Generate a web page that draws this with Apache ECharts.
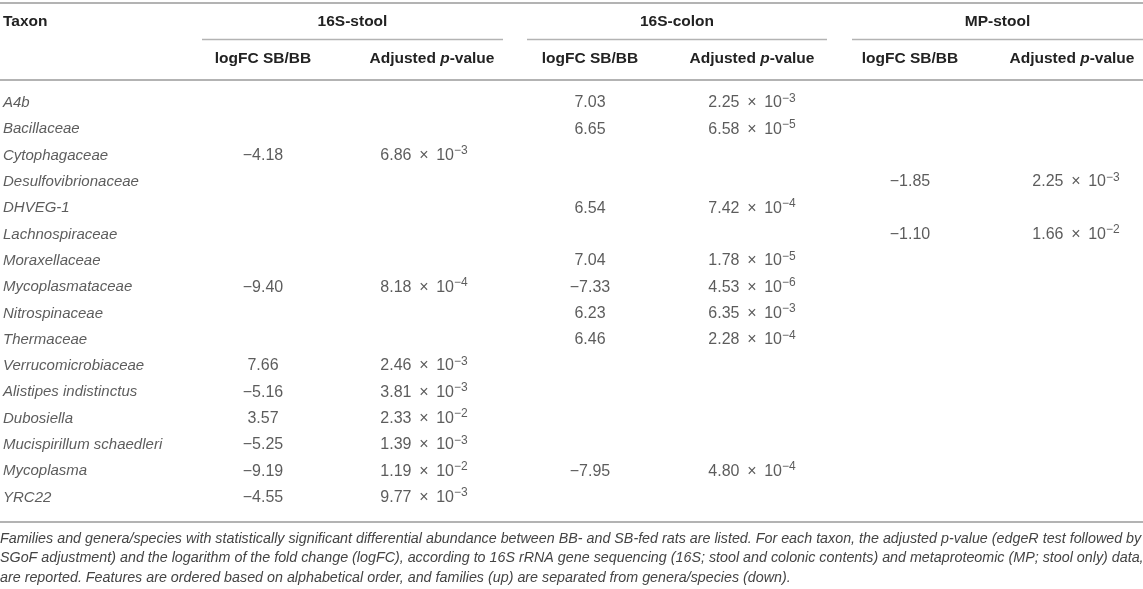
<!DOCTYPE html>
<html>
<head>
<meta charset="utf-8">
<script src="https://cdn.jsdelivr.net/npm/echarts@6/dist/echarts.min.js"></script>
<style>
  html, body { margin: 0; padding: 0; background: #fff; }
  #main { width: 1143px; height: 589px; }
</style>
</head>
<body>
<div id="main"></div>
<script>
// table content
var taxa = [
    'A4b', 'Bacillaceae', 'Cytophagaceae', 'Desulfovibrionaceae', 'DHVEG-1',
    'Lachnospiraceae', 'Moraxellaceae', 'Mycoplasmataceae', 'Nitrospinaceae',
    'Thermaceae', 'Verrucomicrobiaceae', 'Alistipes indistinctus', 'Dubosiella',
    'Mucispirillum schaedleri', 'Mycoplasma', 'YRC22'
];
var stoolLogFC = [null, null, -4.18, null, null, null, null, -9.40, null, null, 7.66, -5.16, 3.57, -5.25, -9.19, -4.55];
var stoolP     = [null, null, 6.86e-3, null, null, null, null, 8.18e-4, null, null, 2.46e-3, 3.81e-3, 2.33e-2, 1.39e-3, 1.19e-2, 9.77e-3];
var colonLogFC = [7.03, 6.65, null, null, 6.54, null, 7.04, -7.33, 6.23, 6.46, null, null, null, null, -7.95, null];
var colonP     = [2.25e-3, 6.58e-5, null, null, 7.42e-4, null, 1.78e-5, 4.53e-6, 6.35e-3, 2.28e-4, null, null, null, null, 4.80e-4, null];
var mpLogFC    = [null, null, null, -1.85, null, -1.10, null, null, null, null, null, null, null, null, null, null];
var mpP        = [null, null, null, 2.25e-3, null, 1.66e-2, null, null, null, null, null, null, null, null, null, null];

var groupLabels = ['16S-stool', '16S-colon', 'MP-stool'];
var captionLines = [
    'Families and genera/species with statistically significant differential abundance between BB- and SB-fed rats are listed. For each taxon, the adjusted p-value (edgeR test followed by',
    'SGoF adjustment) and the logarithm of the fold change (logFC), according to 16S rRNA gene sequencing (16S; stool and colonic contents) and metaproteomic (MP; stool only) data,',
    'are reported. Features are ordered based on alphabetical order, and families (up) are separated from genera/species (down).'
];

// layout
var FONT = '"Liberation Sans", Arial, Helvetica, sans-serif';
var colX = { taxon: 3, sL: 263, sP: 424, cL: 590, cP: 752, mL: 910, mP: 1076 };
var groupSpan = [[202, 503], [527, 827], [852, 1143]];
var lineColor = '#b3b3b3';

function fmtFC(v) {
    var s = Math.abs(v).toFixed(2);
    return v < 0 ? '\u2212' + s : s;
}
function fmtP(v) {
    var e = Math.floor(Math.log10(v) + 1e-9);
    var m = (v / Math.pow(10, e)).toFixed(2);
    return '{n|' + m + '\u2009 \u00d7 \u200910}{sup|\u2212' + Math.abs(e) + '}';
}

function colData(x, arr) {
    var out = [];
    for (var i = 0; i < arr.length; i++) {
        if (arr[i] !== null) out.push([x, taxa[i], arr[i]]);
    }
    return out;
}

var richNum = {
    n: { fontSize: 16, fontFamily: FONT, color: '#333' },
    sup: { fontSize: 12, fontFamily: FONT, color: '#333', padding: [0, 0, 9, 0] }
};

function numSeries(x, arr, isP) {
    return {
        type: 'scatter',
        symbolSize: 0,
        silent: true,
        data: colData(x, arr),
        label: {
            show: true,
            position: 'inside',
            align: 'center',
            verticalAlign: 'middle',
            fontSize: 16,
            fontFamily: FONT,
            color: '#333',
            rich: richNum,
            formatter: function (p) {
                return isP ? fmtP(p.value[2]) : fmtFC(p.value[2]);
            }
        }
    };
}

var taxonData = [];
for (var i = 0; i < taxa.length; i++) taxonData.push([colX.taxon, taxa[i]]);

var graphics = [];
function hline(x1, x2, y, w) {
    graphics.push({ type: 'line', silent: true,
        shape: { x1: x1, y1: y, x2: x2, y2: y },
        style: { stroke: lineColor, lineWidth: w } });
}
function htext(x, y, txt, align) {
    graphics.push({ type: 'text', silent: true, x: x, y: y,
        style: { text: txt, fontFamily: FONT, fontSize: 15.5, fontWeight: 'bold', fill: '#222',
            align: align, verticalAlign: 'middle',
            rich: {
                b: { fontFamily: FONT, fontSize: 15.5, fontWeight: 'bold', fill: '#222' },
                bi: { fontFamily: FONT, fontSize: 15.5, fontWeight: 'bold', fontStyle: 'italic', fill: '#222' }
            } } });
}

hline(0, 1143, 3, 2);
hline(0, 1143, 80, 2);
hline(0, 1143, 522, 2);
for (var g = 0; g < groupSpan.length; g++) {
    hline(groupSpan[g][0], groupSpan[g][1], 39.5, 1.5);
    htext((groupSpan[g][0] + groupSpan[g][1]) / 2, 22, groupLabels[g], 'center');
}
htext(3, 22, 'Taxon', 'left');
var subCols = [263, 432, 590, 752, 910, 1072];
for (var k = 0; k < subCols.length; k++) {
    htext(subCols[k], 59, k % 2 === 0 ? 'logFC SB/BB' : '{b|Adjusted }{bi|p}{b|-value}', 'center');
}
for (var c = 0; c < captionLines.length; c++) {
    graphics.push({ type: 'text', silent: true, x: 0, y: 539 + c * 19.5,
        style: { text: captionLines[c], fontFamily: FONT, fontSize: 14.3, fontStyle: 'italic',
            fill: '#444', align: 'left', verticalAlign: 'middle' } });
}

var chart = echarts.init(document.getElementById('main'));
chart.setOption({
    animation: false,
    backgroundColor: '#fff',
    grid: { left: 0, right: 0, top: 89.85, bottom: 78.35 },
    xAxis: { type: 'value', min: 0, max: 1143, show: false },
    yAxis: { type: 'category', data: taxa, inverse: true, show: false },
    graphic: graphics,
    series: [
        {
            type: 'scatter',
            symbolSize: 0,
            silent: true,
            data: taxonData,
            label: {
                show: true,
                position: 'inside',
                align: 'left',
                verticalAlign: 'middle',
                fontSize: 15,
                fontStyle: 'italic',
                fontFamily: FONT,
                color: '#333',
                formatter: function (p) { return p.value[1]; }
            }
        },
        numSeries(colX.sL, stoolLogFC, false),
        numSeries(colX.sP, stoolP, true),
        numSeries(colX.cL, colonLogFC, false),
        numSeries(colX.cP, colonP, true),
        numSeries(colX.mL, mpLogFC, false),
        numSeries(colX.mP, mpP, true)
    ]
});
</script>
</body>
</html>
